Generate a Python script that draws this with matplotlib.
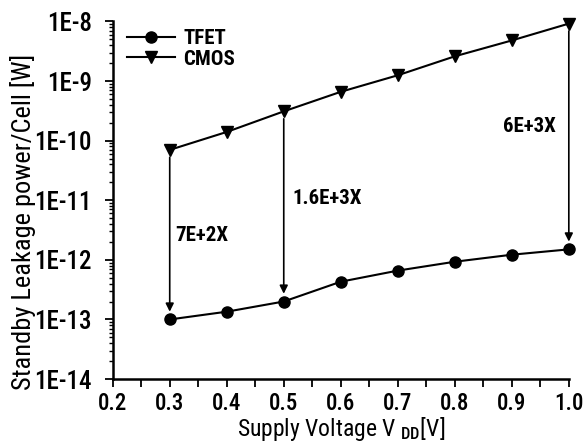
import matplotlib
matplotlib.use('Agg')
import matplotlib.pyplot as plt
from matplotlib.ticker import FixedLocator, FixedFormatter, LogLocator, NullFormatter

plt.rcParams['font.family'] = ['Roboto Condensed', 'Roboto', 'DejaVu Sans']
plt.rcParams['font.weight'] = 'medium'
plt.rcParams['mathtext.fontset'] = 'custom'
plt.rcParams['mathtext.rm'] = 'Roboto Condensed:medium'
plt.rcParams['mathtext.it'] = 'Roboto Condensed:medium'

vdd = [0.3, 0.4, 0.5, 0.6, 0.7, 0.8, 0.9, 1.0]
tfet = [1.0e-13, 1.35e-13, 2.0e-13, 4.3e-13, 6.6e-13, 9.3e-13, 1.22e-12, 1.5e-12]
cmos = [7.0e-11, 1.4e-10, 3.1e-10, 6.6e-10, 1.25e-9, 2.6e-9, 4.8e-9, 9.2e-9]

arrow_x = [0.3, 0.5, 1.0]
ratio_labels = ['7E+2X', '1.6E+3X', '6E+3X']
label_x = [0.31, 0.515, 0.978]
label_y = [2.6e-12, 1.05e-11, 1.75e-10]
label_ha = ['left', 'left', 'right']

yticks = [1e-14, 1e-13, 1e-12, 1e-11, 1e-10, 1e-9, 1e-8]
ytick_labels = ['1E-14', '1E-13', '1E-12', '1E-11', '1E-10', '1E-9', '1E-8']
xticks = [0.2, 0.3, 0.4, 0.5, 0.6, 0.7, 0.8, 0.9, 1.0]

fig = plt.figure(figsize=(5.84, 4.47), dpi=100)
ax = fig.add_axes([0.193, 0.152, 0.781, 0.80])

ax.plot(vdd, tfet, '-o', color='black', lw=1.5, ms=8, label='TFET', clip_on=False, zorder=3)
ax.plot(vdd, cmos, '-v', color='black', lw=1.5, ms=9, label='CMOS', clip_on=False, zorder=3)

for x, lab, lx, ly, ha in zip(arrow_x, ratio_labels, label_x, label_y, label_ha):
    i = vdd.index(x)
    ax.annotate('', xy=(x, tfet[i] * 1.35), xytext=(x, cmos[i] * 0.75),
                arrowprops=dict(arrowstyle='-|>', color='black', lw=1.2,
                                mutation_scale=12, shrinkA=0, shrinkB=0))
    ax.text(lx, ly, lab, ha=ha, va='center', fontsize=15, fontweight='bold')

ax.set_yscale('log')
ax.set_ylim(1e-14, 1e-8)
ax.set_xlim(0.2, 1.0)
ax.yaxis.set_major_locator(FixedLocator(yticks))
ax.yaxis.set_major_formatter(FixedFormatter(ytick_labels))
ax.yaxis.set_minor_locator(LogLocator(base=10, subs=range(2, 10), numticks=20))
ax.yaxis.set_minor_formatter(NullFormatter())
ax.set_xticks(xticks)
ax.set_xticklabels(['%.1f' % v for v in xticks])
ax.set_xticks([0.25, 0.35, 0.45, 0.55, 0.65, 0.75, 0.85, 0.95], minor=True)

for s in ['top', 'right']:
    ax.spines[s].set_visible(False)
for s in ['left', 'bottom']:
    ax.spines[s].set_linewidth(1.8)
ax.tick_params(axis='y', which='major', labelsize=18, width=1.3, length=6, pad=9)
ax.tick_params(axis='x', which='major', labelsize=16.5, width=1.3, length=6)
ax.tick_params(axis='y', which='minor', width=1.0, length=3)
ax.tick_params(axis='x', which='minor', width=1.3, length=6)

ax.set_xlabel(r'Supply Voltage V $_{\mathrm{DD}}$[V]', fontsize=17, labelpad=0)
ax.set_ylabel('Standby Leakage power/Cell [W]', fontsize=19)
ax.yaxis.set_label_coords(-0.168, 0.44)

ax.legend(loc='upper left', bbox_to_anchor=(-0.01, 1.03), frameon=False,
          prop={'size': 15, 'weight': 'bold'},
          handlelength=2.3, handletextpad=0.4, labelspacing=0.05)

fig.savefig('out.png', dpi=100)
